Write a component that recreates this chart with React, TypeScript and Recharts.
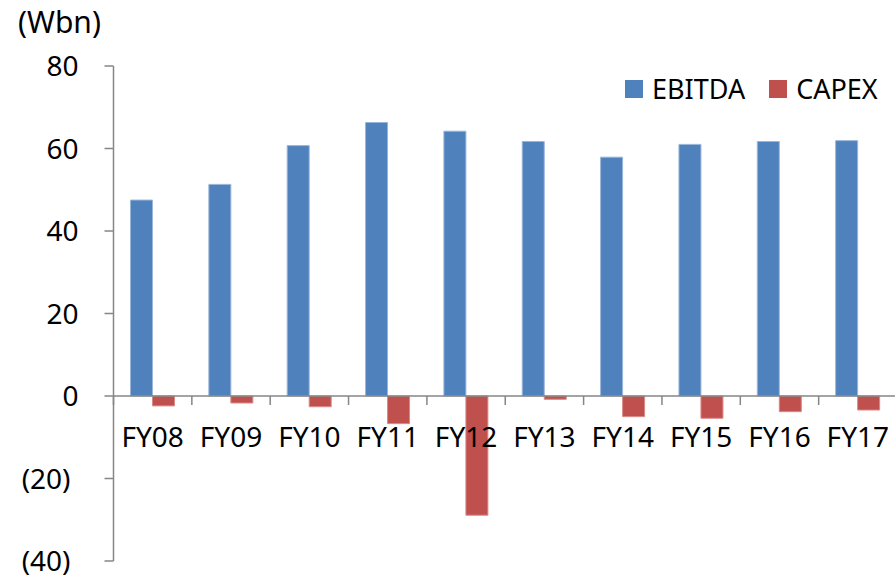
import { Bar, BarChart, ReferenceLine, XAxis, YAxis } from "recharts";

const categories = ["FY08", "FY09", "FY10", "FY11", "FY12", "FY13", "FY14", "FY15", "FY16", "FY17"];
const ebitda = [47.5, 51.3, 60.7, 66.3, 64.2, 61.7, 57.9, 61.0, 61.7, 61.9];
const capex = [-2.4, -1.7, -2.6, -6.7, -28.9, -0.8, -5.0, -5.4, -3.8, -3.4];
const yTicks = [-40, -20, 0, 20, 40, 60, 80];

const WIDTH = 897;
const HEIGHT = 579;
const TOP = 66;
const PLOT_H = 495;
const Y_MIN = -40;
const Y_MAX = 80;
const FONT = "'Noto Sans', 'Open Sans', sans-serif";
const FS = 28;
const AXIS = "#868686";
const BLUE = "#4F81BD";
const RED = "#C0504D";

const zeroY = TOP + (PLOT_H * Y_MAX) / (Y_MAX - Y_MIN);
const band = (WIDTH - 113.5) / categories.length;

const data = categories.map((name, i) => ({ name, ebitda: ebitda[i], capex: capex[i] }));

function fmt(v: number): string {
  return v < 0 ? `(${Math.abs(v)})` : String(v);
}

function YTick({ x, y, payload }: any) {
  const v = payload.value as number;
  return (
    <text x={x} y={y} dx={v < 0 ? -6 : 2} dy={10} textAnchor="end" fontSize={FS} fontFamily={FONT} fill="#000">
      {fmt(v)}
    </text>
  );
}

function XTick({ x, payload, index }: any) {
  const left = x - band / 2;
  return (
    <g>
      <line x1={left} x2={left} y1={zeroY} y2={zeroY + 9} stroke={AXIS} strokeWidth={1.5} />
      {index === categories.length - 1 && (
        <line x1={left + band} x2={left + band} y1={zeroY} y2={zeroY + 9} stroke={AXIS} strokeWidth={1.5} />
      )}
      <text x={x} y={zeroY + 51} textAnchor="middle" fontSize={FS} fontFamily={FONT} fill="#000">
        {payload.value}
      </text>
    </g>
  );
}

const legendItems = [
  { label: "EBITDA", color: BLUE },
  { label: "CAPEX", color: RED },
];

export default function App() {
  return (
    <div style={{ position: "absolute", left: 0, top: 0, width: 895, height: HEIGHT, overflow: "hidden", background: "#fff" }}>
      <div style={{ position: "absolute", left: 18, top: 0, fontFamily: FONT, fontSize: 30, color: "#000", lineHeight: "44px" }}>
        (Wbn)
      </div>
      <div
        style={{
          position: "absolute",
          left: 625,
          top: 68,
          display: "flex",
          alignItems: "center",
          fontFamily: FONT,
          fontSize: 27,
          lineHeight: "42px",
          gap: 24,
          zIndex: 2,
        }}
      >
        {legendItems.map((it) => (
          <div key={it.label} style={{ display: "flex", alignItems: "center" }}>
            <span style={{ width: 18, height: 18, background: it.color, marginRight: 9, display: "inline-block" }} />
            <span>{it.label}</span>
          </div>
        ))}
      </div>
      <BarChart
        width={WIDTH}
        height={HEIGHT}
        data={data}
        margin={{ top: TOP, right: 0, left: 0, bottom: 0 }}
        barGap={0}
        barSize={22}
      >
        <XAxis dataKey="name" axisLine={false} tickLine={false} tick={<XTick />} height={HEIGHT - TOP - PLOT_H} interval={0} />
        <YAxis
          domain={[Y_MIN, Y_MAX]}
          ticks={yTicks}
          width={113.5}
          tickSize={9}
          tickMargin={28}
          axisLine={{ stroke: AXIS, strokeWidth: 1.5 }}
          tickLine={{ stroke: AXIS, strokeWidth: 1.5 }}
          tick={<YTick />}
          interval={0}
        />
        <Bar dataKey="ebitda" name="EBITDA" fill={BLUE} stroke="#9AB5DA" strokeWidth={1} isAnimationActive={false} />
        <Bar dataKey="capex" name="CAPEX" fill={RED} stroke="#D98A88" strokeWidth={1} isAnimationActive={false} />
        <ReferenceLine y={0} stroke={AXIS} strokeWidth={1.5} />
      </BarChart>
    </div>
  );
}
